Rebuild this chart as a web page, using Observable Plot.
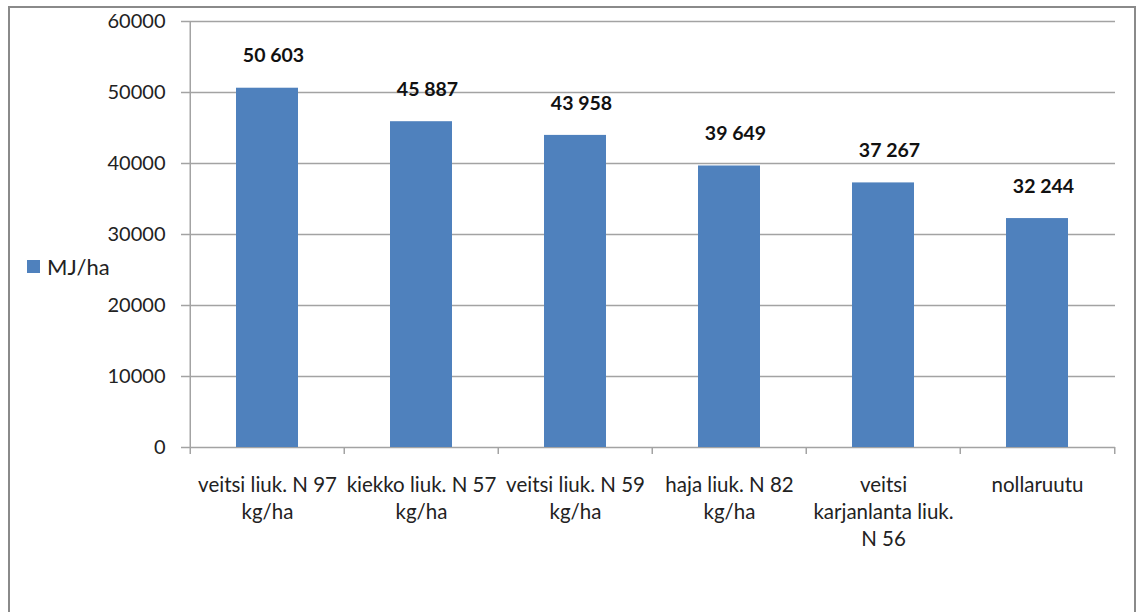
<!DOCTYPE html>
<html>
<head>
<meta charset="utf-8">
<script src="https://cdn.jsdelivr.net/npm/d3@7"></script>
<script src="https://cdn.jsdelivr.net/npm/@observablehq/plot@0.6"></script>
<style>
  html, body { margin: 0; padding: 0; background: #fff; overflow: hidden; }
  #wrap { position: relative; width: 1139px; height: 612px; overflow: hidden; font-family: Lato, "Open Sans", sans-serif; }
  #border { position: absolute; left: 8px; top: 6px; width: 1128px; height: 640px; border: 2px solid #8a8a8a; box-sizing: border-box; }
  #chart { position: absolute; left: 0; top: 0; }
  #legend { position: absolute; left: 27px; top: 253px; display: flex; align-items: center; font-size: 22px; color: #222; }
  #legend .sw { width: 13px; height: 13px; background: #4F81BD; margin-right: 7px; }
</style>
</head>
<body>
<div id="wrap">
  <div id="border"></div>
  <div id="chart"></div>
  <div id="legend"><span class="sw"></span><span>MJ/ha</span></div>
</div>
<script>
const categories = [
  "veitsi liuk. N 97 kg/ha",
  "kiekko liuk. N 57 kg/ha",
  "veitsi liuk. N 59 kg/ha",
  "haja liuk. N 82 kg/ha",
  "veitsi karjanlanta liuk. N 56",
  "nollaruutu"
];
const tickLabels = [
  "veitsi liuk. N 97\nkg/ha",
  "kiekko liuk. N 57\nkg/ha",
  "veitsi liuk. N 59\nkg/ha",
  "haja liuk. N 82\nkg/ha",
  "veitsi\nkarjanlanta liuk.\nN 56",
  "nollaruutu"
];
const values = [50603, 45887, 43958, 39649, 37267, 32244];
const yTicks = [0, 10000, 20000, 30000, 40000, 50000, 60000];
const seriesName = "MJ/ha";

const W = 1139, H = 612;
const mL = 188, mR = 24, mT = 21, mB = 165;
const step = (W - mL - mR) / categories.length;
const gray = "#a3a3a3";
const fmt = d3.formatLocale({decimal: ",", thousands: " ", grouping: [3], currency: ["", ""]}).format(",d");

const chart = Plot.plot({
  width: W,
  height: H,
  marginLeft: mL,
  marginRight: mR,
  marginTop: mT,
  marginBottom: mB,
  style: {fontFamily: "Lato, 'Open Sans', sans-serif", color: "#222", background: "transparent"},
  x: {domain: categories, paddingInner: 0.6, paddingOuter: 0.3, axis: null},
  y: {domain: [0, 60000], axis: null},
  marks: [
    Plot.gridY(yTicks.filter(d => d > 0), {stroke: gray, strokeOpacity: 1, strokeWidth: 1.5}),
    Plot.ruleY([0], {stroke: gray, strokeWidth: 1.5}),
    Plot.ruleX([categories[0]], {x: d => d, dx: -step / 2, stroke: gray, strokeWidth: 1.5}),
    Plot.ruleX(categories, {x: d => d, y1: 0, y2: 0, dx: -step / 2, insetBottom: -7, stroke: gray, strokeWidth: 1.5}),
    Plot.ruleX([categories[categories.length - 1]], {x: d => d, y1: 0, y2: 0, dx: step / 2, insetBottom: -7, stroke: gray, strokeWidth: 1.5}),
    Plot.axisY(yTicks, {tickSize: 7, tickPadding: 16, tickFormat: d => String(d), fontSize: 20, stroke: gray, strokeWidth: 1.5, fill: "#222"}),
    Plot.barY(categories, {x: d => d, y: (d, i) => values[i], fill: "#4F81BD"}),
    Plot.text(categories, {x: d => d, y: (d, i) => values[i], text: (d, i) => fmt(values[i]), dy: -32, dx: 6, fontSize: 19.5, fontWeight: "bold", fill: "#111"}),
    Plot.axisX({tickSize: 0, tickPadding: 25, tickFormat: d => tickLabels[categories.indexOf(d)], fontSize: 20.5, lineHeight: 1.32, fill: "#222"})
  ]
});
document.getElementById("chart").appendChild(chart);
</script>
</body>
</html>
